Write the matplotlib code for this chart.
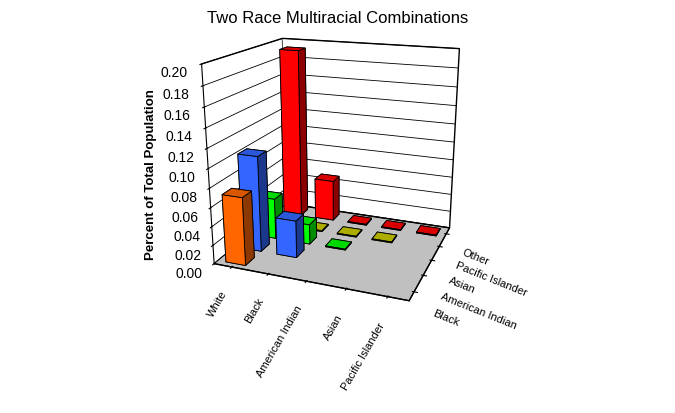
import matplotlib
matplotlib.use("Agg")
import matplotlib.pyplot as plt
import matplotlib.colors as mcolors
import numpy as np

# first race (columns, left to right) and second race (rows, front to back)
cols = ["White", "Black", "American Indian", "Asian", "Pacific Islander"]
rows = ["Black", "American Indian", "Asian", "Pacific Islander", "Other"]
row_colors = ["#FF6600", "#3366FF", "#00FF00", "#CCCC00", "#FF0000"]

# percent of total population, one list per second race (None = no combination)
black = [0.072, None, None, None, None]
american_indian = [0.103, 0.040, None, None, None]
asian = [0.045, 0.022, 0.001, None, None]
pacific_islander = [0.004, 0.001, 0.001, 0.001, None]
other = [0.192, 0.047, 0.001, 0.001, 0.001]
series = [black, american_indian, asian, pacific_islander, other]

plt.rcParams["font.family"] = ["Liberation Sans", "DejaVu Sans"]


def shade(c, f):
    r, g, b = mcolors.to_rgb(c)
    return (r * f, g * f, b * f)


fig = plt.figure(figsize=(6.75, 4.13), dpi=100)
ax = fig.add_axes([0.165, 0.215, 0.66, 0.8], projection="3d")

w = 0.55
xs, ys, zs, fc = [], [], [], []
for j, (vals, c) in enumerate(zip(series, row_colors)):
    for i, v in enumerate(vals):
        if v is None:
            continue
        xs.append(i + 0.5 - w / 2)
        ys.append(j + 0.5 - w / 2)
        zs.append(v)
        # faces: bottom, top, front, back, left, right
        fc += [shade(c, 0.5), shade(c, 0.85), c, c, c, shade(c, 0.55)]
ax.bar3d(xs, ys, np.zeros(len(xs)), w, w, zs, color=fc, edgecolor="black",
         linewidth=0.6, shade=False)

ax.set_xlim(0, 5)
ax.set_ylim(0, 5)
ax.set_zlim(0, 0.20)
ax.set_proj_type("persp", focal_length=0.38)
ax.set_box_aspect((1.3, 1.1, 1.3), zoom=0.96)
ax.view_init(elev=18, azim=-69)
ax.zaxis.set_ticks_position("lower")
ax.zaxis.set_label_position("lower")

ax.set_xticks(np.arange(5) + 0.5)
ax.set_xticklabels(cols, rotation=60, ha="right", va="center",
                   rotation_mode="anchor", fontsize=8)
ax.set_yticks(np.arange(5) + 0.5)
ax.set_yticklabels(rows, rotation=-22, ha="left", va="center",
                   rotation_mode="anchor", fontsize=8)
ax.set_zticks(np.arange(0, 0.201, 0.02))
ax.set_zticklabels([f"{t:.2f}" for t in np.arange(0, 0.201, 0.02)], fontsize=10)
ax.zaxis.set_rotate_label(False)
ax.set_zlabel("Percent of Total Population", fontsize=9.5, fontweight="bold",
              rotation=90)

for axis in (ax.xaxis, ax.yaxis):
    axis.set_pane_color((1, 1, 1, 1))
    axis._axinfo["grid"]["color"] = (1, 1, 1, 0)
ax.zaxis.set_pane_color("#C0C0C0")
ax.zaxis._axinfo["grid"]["color"] = "black"
ax.zaxis._axinfo["grid"]["linewidth"] = 0.6
for axis in (ax.xaxis, ax.yaxis, ax.zaxis):
    axis.pane.set_edgecolor("black")
    axis.line.set_color("black")

fig.text(0.5, 0.955, "Two Race Multiracial Combinations", ha="center", va="center",
         fontsize=12)

fig.savefig("out.png")
